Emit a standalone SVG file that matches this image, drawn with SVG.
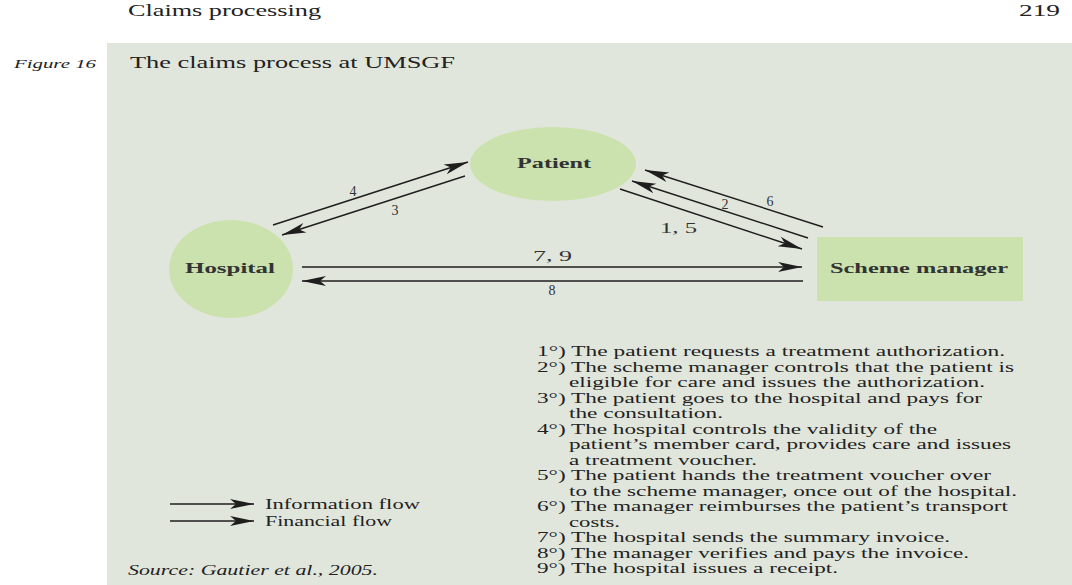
<svg xmlns="http://www.w3.org/2000/svg" width="1072" height="585" viewBox="0 0 1072 585">
  <defs>
    <marker id="ah" markerUnits="userSpaceOnUse" markerWidth="30" markerHeight="16" viewBox="-26 -8 28 16" refX="0" refY="0" orient="auto">
      <path d="M0,0 L-24,-5 L-18,0 L-24,5 Z" fill="#1e1e1e"/>
    </marker>
    <style>
      .node { fill: #cbe2ae; }
      .lbl { font-family: "Liberation Serif", serif; font-size: 15px; font-weight: bold; fill: #333; }
      .num { font-family: "Liberation Serif", serif; font-size: 14px; fill: #333; }
      .edge { stroke: #1e1e1e; stroke-width: 1.4; fill: none; marker-end: url(#ah); }
      .list { font-family: "Liberation Serif", serif; font-size: 15px; fill: #222; }
      .it { font-family: "Liberation Serif", serif; font-style: italic; fill: #222; }
      .hd { font-family: "Liberation Serif", serif; fill: #222; }
    </style>
  </defs>
  <rect width="1072" height="585" fill="#ffffff"/>
  <rect x="107" y="43" width="965" height="542" fill="#e1e6dc"/>
  <text class="hd" x="128" y="16" font-size="16" fill="#444" textLength="193" lengthAdjust="spacingAndGlyphs">Claims processing</text>
  <text class="hd" x="1019" y="16" font-size="16" fill="#444" textLength="41" lengthAdjust="spacingAndGlyphs">219</text>
  <text class="it" x="14" y="68" font-size="13" textLength="82" lengthAdjust="spacingAndGlyphs">Figure 16</text>
  <text class="hd" x="130" y="68" font-size="16" textLength="325" lengthAdjust="spacingAndGlyphs">The claims process at UMSGF</text>

  <g id="connectors">
    <line class="edge" x1="273" y1="225" x2="468" y2="162"/>
    <line class="edge" x1="465" y1="176" x2="282" y2="235"/>
    <line class="edge" x1="823" y1="227" x2="645" y2="170"/>
    <line class="edge" x1="808" y1="238" x2="632" y2="181"/>
    <line class="edge" x1="620" y1="189" x2="802" y2="249"/>
    <line class="edge" x1="302" y1="267" x2="802" y2="267"/>
    <line class="edge" x1="803" y1="281" x2="302" y2="281"/>
    <text class="num" x="353" y="196" text-anchor="middle">4</text>
    <text class="num" x="395" y="215" text-anchor="middle">3</text>
    <text class="num" x="770" y="206" text-anchor="middle">6</text>
    <text class="num" x="725" y="209" text-anchor="middle">2</text>
    <text class="num" x="660" y="233" textLength="37" lengthAdjust="spacingAndGlyphs">1, 5</text>
    <text class="num" x="533" y="261" textLength="39" lengthAdjust="spacingAndGlyphs">7, 9</text>
    <text class="num" x="552" y="295" text-anchor="middle">8</text>
  </g>

  <g id="patient">
    <ellipse class="node" cx="553" cy="164" rx="83" ry="37"/>
    <text class="lbl" x="517" y="168" textLength="74" lengthAdjust="spacingAndGlyphs">Patient</text>
  </g>
  <g id="hospital">
    <ellipse class="node" cx="231" cy="269" rx="62" ry="49"/>
    <text class="lbl" x="185" y="273" textLength="90" lengthAdjust="spacingAndGlyphs">Hospital</text>
  </g>
  <g id="scheme-manager">
    <rect class="node" x="817" y="237" width="206" height="64"/>
    <text class="lbl" x="830" y="273" textLength="178" lengthAdjust="spacingAndGlyphs">Scheme manager</text>
  </g>

  <g id="legend">
    <line class="edge" x1="170" y1="504" x2="254" y2="504"/>
    <line class="edge" x1="170" y1="521" x2="254" y2="521"/>
    <text class="list" x="265" y="509" textLength="155" lengthAdjust="spacingAndGlyphs">Information flow</text>
    <text class="list" x="265" y="526" textLength="127" lengthAdjust="spacingAndGlyphs">Financial flow</text>
  </g>

  <text class="it" x="128" y="575" font-size="14" textLength="250" lengthAdjust="spacingAndGlyphs">Source: Gautier et al., 2005.</text>

  <g id="notes" class="list">
    <text x="537" y="356" textLength="468" lengthAdjust="spacingAndGlyphs">1°) The patient requests a treatment authorization.</text>
    <text x="537" y="371.5" textLength="477" lengthAdjust="spacingAndGlyphs">2°) The scheme manager controls that the patient is</text>
    <text x="569" y="387" textLength="416" lengthAdjust="spacingAndGlyphs">eligible for care and issues the authorization.</text>
    <text x="537" y="402.5" textLength="445" lengthAdjust="spacingAndGlyphs">3°) The patient goes to the hospital and pays for</text>
    <text x="569" y="418" textLength="154" lengthAdjust="spacingAndGlyphs">the consultation.</text>
    <text x="537" y="433.5" textLength="400" lengthAdjust="spacingAndGlyphs">4°) The hospital controls the validity of the</text>
    <text x="569" y="449" textLength="442" lengthAdjust="spacingAndGlyphs">patient’s member card, provides care and issues</text>
    <text x="569" y="464.5" textLength="188" lengthAdjust="spacingAndGlyphs">a treatment voucher.</text>
    <text x="537" y="480" textLength="454" lengthAdjust="spacingAndGlyphs">5°) The patient hands the treatment voucher over</text>
    <text x="569" y="495.5" textLength="448" lengthAdjust="spacingAndGlyphs">to the scheme manager, once out of the hospital.</text>
    <text x="537" y="511" textLength="471" lengthAdjust="spacingAndGlyphs">6°) The manager reimburses the patient’s transport</text>
    <text x="569" y="526.5" textLength="51" lengthAdjust="spacingAndGlyphs">costs.</text>
    <text x="537" y="542" textLength="413" lengthAdjust="spacingAndGlyphs">7°) The hospital sends the summary invoice.</text>
    <text x="537" y="557.5" textLength="432" lengthAdjust="spacingAndGlyphs">8°) The manager verifies and pays the invoice.</text>
    <text x="537" y="573" textLength="301" lengthAdjust="spacingAndGlyphs">9°) The hospital issues a receipt.</text>
  </g>
</svg>
